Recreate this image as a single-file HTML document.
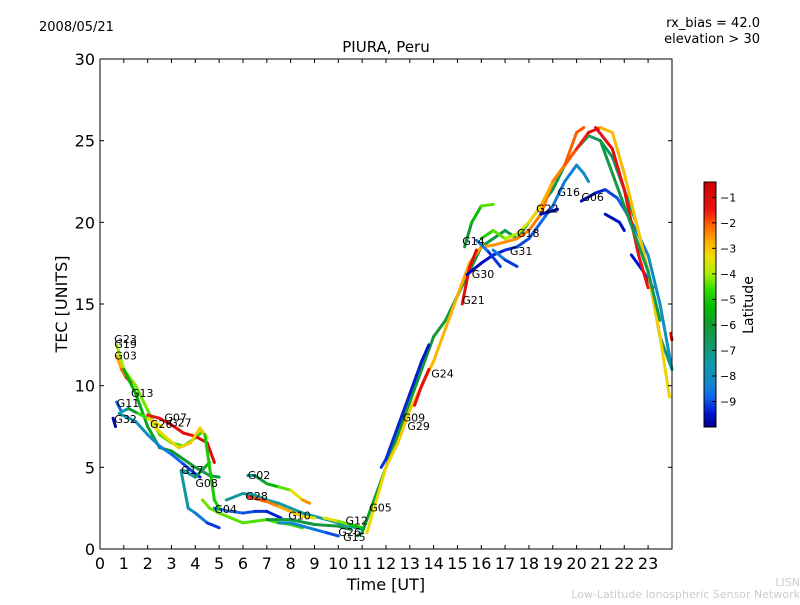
<!DOCTYPE html>
<html><head><meta charset="utf-8"><style>
body{margin:0;background:#fff;}
svg text{font-family:"DejaVu Sans","Liberation Sans",sans-serif;}
</style></head><body>
<svg id="chart" width="800" height="600" xmlns="http://www.w3.org/2000/svg">
<rect width="800" height="600" fill="#fff"/>
<text x="39" y="31" font-size="13">2008/05/21</text>
<text x="760" y="27" font-size="13" text-anchor="end">rx_bias = 42.0</text>
<text x="760" y="43" font-size="13" text-anchor="end">elevation &gt; 30</text>
<text x="386" y="52" font-size="15" text-anchor="middle">PIURA, Peru</text>
<text x="386" y="590" font-size="16" text-anchor="middle">Time [UT]</text>
<text transform="translate(67,304) rotate(-90)" font-size="16" text-anchor="middle">TEC [UNITS]</text>
<g id="marks"></g>
<g id="labels"></g>
<rect x="100" y="59" width="572" height="490" fill="none" stroke="#000" stroke-width="1"/>
<g id="axes"></g>
<defs><linearGradient id="cmap" x1="0" y1="0" x2="0" y2="1"></linearGradient></defs>
<rect id="cbar" x="704" y="182" width="12" height="245" fill="url(#cmap)" stroke="#000" stroke-width="1"/>
<g id="cbticks"></g>
<text transform="translate(753,305) rotate(-90)" font-size="14" text-anchor="middle">Latitude</text>
<text x="800" y="586" font-size="11" fill="#ccc" text-anchor="end">LISN</text>
<text x="800" y="598" font-size="11" fill="#ccc" text-anchor="end">Low-Latitude Ionospheric Sensor Network</text>
</svg>
<script>
const xTicks=[0,1,2,3,4,5,6,7,8,9,10,11,12,13,14,15,16,17,18,19,20,21,22,23];
const yTicks=[0,5,10,15,20,25,30];
const latTicks=[-1,-2,-3,-4,-5,-6,-7,-8,-9];
const satNames=["G23","G19","G03","G13","G11","G32","G07","G27","G26","G17","G08","G04","G02","G28","G10","G12","G26","G15","G05","G09","G29","G24","G21","G14","G30","G31","G18","G22","G16","G06"];
const satLabelT=[0.6,0.6,0.6,1.3,0.7,0.6,2.7,2.9,2.1,3.4,4.0,4.8,6.2,6.1,7.9,10.3,10.0,10.2,11.3,12.7,12.9,13.9,15.2,15.2,15.6,17.2,17.5,18.3,19.2,20.2];
const satLabelV=[12.6,12.3,11.6,9.3,8.7,7.7,7.8,7.5,7.4,4.6,3.8,2.2,4.3,3.0,1.8,1.5,0.8,0.5,2.3,7.8,7.3,10.5,15.0,18.6,16.6,18.0,19.1,20.6,21.6,21.3];
const arcT=[
[0.7,1.0,1.5,2.0,2.5,3.0,3.5,4.0,4.3],
[0.7,0.9,1.1,1.3],
[1.0,1.5,2.0,2.5,3.0,3.5,4.0,4.6,5.0],
[0.7,0.9,1.2,1.6,2.0,2.6],
[0.55,0.65],
[0.8,1.5,2.0,2.5,3.0,3.5,4.0,4.2],
[2.0,2.5,3.0,3.5,4.0,4.5,4.8],
[2.2,2.8,3.3,3.8,4.2,4.5],
[3.4,3.7,4.0,4.5,5.0],
[3.5,4.0,4.4,4.6],
[4.3,4.6,5.0,5.5,6.0,6.5,7.0,7.5,8.0,8.5],
[5.3,6.0,6.5,7.0,7.5,8.0,8.5,9.0,9.5,10.0,10.5,11.0],
[6.2,6.5,7.0,7.5,8.0,8.5,8.8],
[4.8,5.5,6.0,6.5,7.0,7.6],
[7.0,8.0,9.0,10.0,10.5],
[7.5,8.0,9.0,9.5,10.0],
[9.4,10.0,10.5,11.0],
[10.8,11.0,11.5,12.0,12.5,13.0,13.5,14.0,14.5,15.0,15.5,16.0,16.5,17.0,17.5,18.0,18.5,19.0,19.5,20.0,20.5,21.0,21.5,22.0,22.5,23.0,23.5,24.0],
[11.8,12.0,12.5,13.0,13.5,13.8],
[11.2,11.6,12.0,12.5,13.0,13.5,14.0,14.5,15.0,15.5,16.0,16.5,17.0,17.5,18.0,18.5,19.0,19.5,20.0,20.3],
[13.2,13.5,13.8],
[15.2,15.5,15.8],
[15.3,15.6,16.0,16.5],
[15.4,16.0,16.5,17.0,17.5,18.0,18.5,19.0,19.5,20.0,20.3,20.5],
[15.8,16.3,16.8],
[16.5,17.0,17.5],
[16.0,16.5,17.0,17.5,18.0,18.5,19.0,19.5,20.0,20.5,21.0],
[18.5,19.2],
[20.2,20.8,21.2,21.7,22.0,22.5,23.0,23.5,24.0],
[21.2,21.8,22.0],
[22.3,22.8,23.2],
[21.0,21.5,22.0,22.5,23.0,23.5,23.9],
[20.8,21.5,22.0,22.6,23.0],
[21.0,22.0,23.0,23.5],
[23.95,24.0],
[6.2,6.5,7.0,7.5,8.0,8.5,9.0],
[4.4,4.6,4.8,5.0]
];
const arcV=[
[12.5,11.0,10.0,8.5,7.0,6.5,6.3,6.8,7.2],
[11.8,11.0,10.5,10.2],
[11.0,9.5,7.5,6.2,6.0,5.5,5.0,4.5,4.4],
[9.0,8.4,8.6,8.3,8.0,7.5],
[8.0,7.5],
[8.3,7.8,7.0,6.3,5.8,5.2,4.6,4.4],
[8.2,8.0,7.6,7.1,6.9,6.5,5.3],
[7.6,6.8,6.2,6.5,7.4,6.8],
[4.8,2.5,2.2,1.6,1.3],
[4.8,4.4,5.0,5.3],
[3.0,2.5,2.2,1.9,1.6,1.7,1.8,1.6,1.5,1.3],
[3.0,3.4,3.3,3.0,2.8,2.5,2.2,2.0,1.8,1.6,1.4,1.2],
[4.5,4.5,4.0,3.8,3.6,3.0,2.8],
[2.5,2.3,2.2,2.3,2.3,1.9],
[1.8,1.8,1.5,1.4,1.2],
[1.6,1.6,1.2,1.0,0.8],
[1.9,1.7,1.5,1.3],
[0.8,1.0,3.0,5.0,7.0,9.0,11.0,13.0,14.0,15.5,17.0,18.5,19.0,19.5,19.0,20.0,21.0,22.0,23.5,24.5,25.3,25.0,24.0,22.0,20.0,17.0,13.0,11.0],
[5.0,5.5,7.5,9.5,11.5,12.5],
[1.0,3.0,5.0,6.5,8.5,10.0,11.5,13.5,15.5,17.5,18.5,18.6,18.8,19.0,19.5,20.5,22.5,23.5,25.5,25.8],
[8.8,10.0,11.0],
[15.0,17.2,18.3],
[18.5,20.0,21.0,21.1],
[16.8,17.5,18.0,18.3,18.5,19.0,20.0,21.0,22.5,23.5,23.0,22.5],
[18.9,18.2,17.3],
[18.3,17.7,17.3],
[19.0,19.5,19.0,19.3,20.0,21.0,22.5,23.5,24.5,25.5,25.8],
[20.5,20.8],
[21.3,21.8,22.0,21.5,20.8,19.5,18.0,15.0,11.0],
[20.5,20.0,19.5],
[18.0,17.0,16.0],
[25.8,25.5,23.0,20.0,17.0,13.0,9.3],
[25.8,24.5,22.0,18.0,16.0],
[25.0,21.0,17.0,14.0],
[13.2,12.8],
[3.2,3.1,2.9,2.6,2.3,2.0,1.9],
[7.0,5.0,3.0,2.5]
];
const arcLat=[[-4,-4.8],[-3,-1.3],[-5.5,-6.3],[-9.5,-2.5],[-9.8,-9.8],[-7.5,-9.5],[-1.5,-1],[-3.3,-3],[-7,-9.5],[-8,-5],[-4.3,-4.6],[-7.3,-7.6],[-7.8,-2],[-8.5,-9.5],[-6.2,-6.2],[-7.8,-9.2],[-3,-5.5],[-5.8,-6.8],[-9.2,-9.5],[-3.3,-2],[-1.3,-1.3],[-1.2,-1.2],[-6.5,-4],[-9.8,-8],[-8.2,-9.5],[-8.2,-9.5],[-5,-1],[-9.7,-9.7],[-9.7,-7.8],[-9.7,-9.5],[-9.6,-9.2],[-2.8,-3.2],[-1.2,-1.5],[-6.2,-6.5],[-1,-1],[-1.5,-3.5],[-5,-5]];
const cmapLat=[-0.4,-1.5,-2.0,-2.7,-3.3,-4.0,-4.6,-5.3,-6.0,-6.8,-7.5,-8.3,-8.8,-9.5,-10];
const cmapCol=[[204,0,0],[238,17,17],[255,85,0],[255,170,0],[238,221,0],[170,238,0],[51,221,0],[0,187,0],[17,153,51],[17,153,102],[17,153,170],[17,136,204],[17,102,238],[0,17,204],[0,0,136]];
function cmap(lat){lat=Math.max(-10,Math.min(-0.4,lat));
 for(let i=0;i<cmapLat.length-1;i++){if(lat<=cmapLat[i]&&lat>=cmapLat[i+1]){const f=(cmapLat[i]-lat)/(cmapLat[i]-cmapLat[i+1]);
  const c=cmapCol[i].map((v,j)=>Math.round(v+(cmapCol[i+1][j]-v)*f));return `rgb(${c[0]},${c[1]},${c[2]})`;}}
 return 'rgb(0,0,136)';}
const X=t=>100+t*23.83, Y=v=>549-v*16.333;
const NS="http://www.w3.org/2000/svg";
const grad=document.getElementById('cmap');
cmapLat.forEach((l,i)=>{const s=document.createElementNS(NS,'stop');s.setAttribute('offset',((-0.4-l)/9.6).toFixed(4));s.setAttribute('stop-color',cmap(l));grad.appendChild(s);});
const marks=document.getElementById('marks');
arcT.forEach((ts,i)=>{const vs=arcV[i],L=arcLat[i];const n=ts.length;
 for(let k=0;k<n-1;k++){const f=(k+0.5)/(n-1);const lat=L[0]+(L[1]-L[0])*f;
  const ln=document.createElementNS(NS,'line');
  
  
  ln.setAttribute('x1',X(ts[k]));ln.setAttribute('y1',Y(vs[k]));ln.setAttribute('x2',X(ts[k+1]));ln.setAttribute('y2',Y(vs[k+1]));
  ln.setAttribute('stroke',cmap(lat));ln.setAttribute('stroke-width','3');ln.setAttribute('stroke-linecap','round');
  marks.appendChild(ln);}});
const lab=document.getElementById('labels');
satNames.forEach((s,i)=>{const t=document.createElementNS(NS,'text');
 
 
 t.setAttribute('x',X(satLabelT[i]));t.setAttribute('y',Y(satLabelV[i]));t.setAttribute('font-size','11');t.textContent=s;lab.appendChild(t);});
const ax=document.getElementById('axes');
function mk(tag,attrs,txt){const e=document.createElementNS(NS,tag);for(const k in attrs)e.setAttribute(k,attrs[k]);if(txt!==undefined)e.textContent=txt;return e;}
xTicks.forEach(t=>{const x=X(t);
 const a=mk('line',{x1:x,x2:x,y1:549,y2:545,stroke:'#000'});ax.appendChild(a);
 const b=mk('line',{x1:x,x2:x,y1:59,y2:63,stroke:'#000'});ax.appendChild(b);
 const l=mk('text',{x:x,y:569,'font-size':16,'text-anchor':'middle'},t);ax.appendChild(l);});
yTicks.forEach(v=>{const y=Y(v);
 const a=mk('line',{x1:100,x2:104,y1:y,y2:y,stroke:'#000'});ax.appendChild(a);
 const b=mk('line',{x1:668,x2:672,y1:y,y2:y,stroke:'#000'});ax.appendChild(b);
 const l=mk('text',{x:95,y:y+6,'font-size':16,'text-anchor':'end'},v);ax.appendChild(l);});
const cb=document.getElementById('cbticks');
latTicks.forEach(v=>{const y=182+(-0.4-v)/9.6*245;
 const a=mk('line',{x1:712,x2:716,y1:y,y2:y,stroke:'#000'});cb.appendChild(a);
 const l=mk('text',{x:720,y:y+4,'font-size':11},'\u2212'+(-v));cb.appendChild(l);});
</script>
</body></html>
